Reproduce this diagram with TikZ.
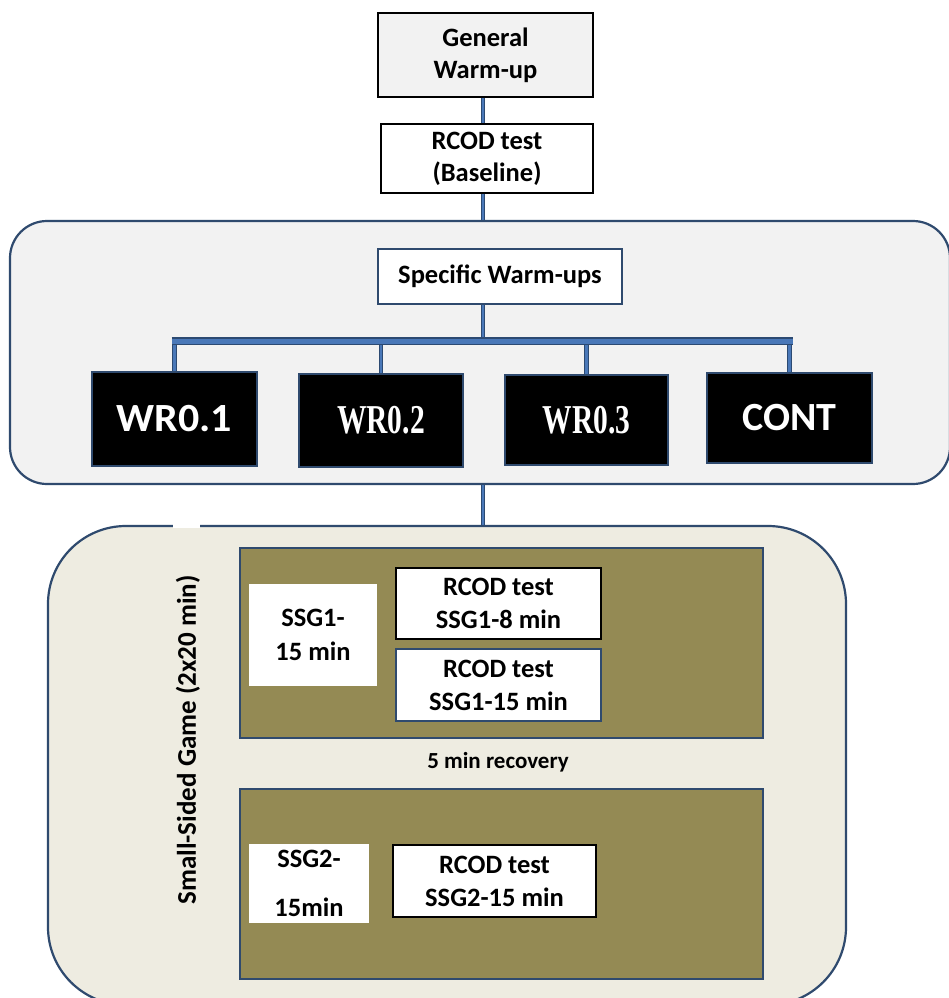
\documentclass[tikz,border=0pt]{standalone}
\usepackage{fontspec}
\setmainfont{Carlito}
\newfontfamily\timesf{Liberation Serif}
\usetikzlibrary{calc}
\definecolor{conn}{HTML}{4A78B8}
\definecolor{connedge}{HTML}{2C4A72}
\definecolor{frameblue}{HTML}{2F4A6E}
\definecolor{panelgray}{HTML}{F2F2F2}
\definecolor{beige}{HTML}{EEECE1}
\definecolor{olive}{HTML}{948A54}
\tikzset{
  wire/.style={draw=connedge, line width=1pt, double=conn, double distance=2.6pt},
  barwire/.style={draw=connedge, line width=1.3pt, double=conn, double distance=5pt},
  topbox/.style={draw=black, line width=1.8pt, align=center, inner sep=0pt,
     font=\bfseries\fontsize{26.5}{32}\selectfont},
  whitebox/.style={draw=black, line width=2.6pt, fill=white, align=center, inner sep=0pt,
     font=\bfseries\fontsize{26.5}{33}\selectfont},
  bluebox/.style={draw=frameblue, line width=2pt, fill=white, align=center, inner sep=0pt,
     font=\bfseries\fontsize{26.5}{33}\selectfont},
  plainbox/.style={fill=white, align=center, inner sep=0pt,
     font=\bfseries\fontsize{26.5}{34}\selectfont},
  wrbox/.style={draw=frameblue, line width=1.5pt, fill=black, text=white, inner sep=0pt},
  panel/.style={draw=frameblue, line width=2.2pt, inner sep=0pt},
  olivebox/.style={draw=frameblue, line width=2pt, fill=olive, inner sep=0pt}
}
\begin{document}
\begin{tikzpicture}[x=1pt,y=-1pt]
\useasboundingbox (0,0) rectangle (949,998);
\clip (0,0) rectangle (949,998);
\fill[white] (0,0) rectangle (949,998);
\coordinate (cx) at (483,0);

% panels
\node[panel, fill=panelgray, rounded corners=37pt, minimum width=940pt, minimum height=263pt]
  (panel1) at (480,352.5) {};
\node[panel, fill=beige, rounded corners=78pt, minimum width=798pt, minimum height=479pt]
  (panel2) at (447,765.5) {};
\fill[white] (173,524) rectangle (200,528);

% top boxes
\node[topbox, fill=panelgray, minimum width=215pt, minimum height=84pt] (gw) at (485.5,55)
  {General\\Warm-up};
\node[topbox, fill=white, minimum width=212pt, minimum height=69pt] (base) at (487,158.5)
  {RCOD test\\(Baseline)};
\node[bluebox, minimum width=244pt, minimum height=55pt] (spec) at (500,276.5)
  {Specific Warm-ups};

% group boxes
\node[wrbox, minimum width=165pt, minimum height=94pt] (w1) at (174.5,419)
  {\bfseries\fontsize{40}{40}\selectfont\scalebox{1.05}[1]{WR0.1}};
\node[wrbox, minimum width=164pt, minimum height=93pt] (w2) at (381,420.5)
  {\scalebox{0.72}[1]{\timesf\bfseries\fontsize{41}{41}\selectfont WR0.2}};
\node[wrbox, minimum width=163pt, minimum height=90pt] (w3) at (586.5,420)
  {\scalebox{0.72}[1]{\timesf\bfseries\fontsize{41}{41}\selectfont WR0.3}};
\node[wrbox, minimum width=165pt, minimum height=90pt] (cont) at (789.5,418)
  {\bfseries\fontsize{40}{40}\selectfont CONT};

% connectors top
\draw[wire] (gw.south -| cx) -- (base.north -| cx);
\draw[wire] (base.south -| cx) -- (panel1.north -| cx);
\coordinate (bary) at (0,341);
\draw[wire] (spec.south -| cx) -- (cx |- bary);
\draw[wire] (w1.north) -- (w1.north |- bary);
\draw[wire] (w2.north) -- (w2.north |- bary);
\draw[wire] (w3.north) -- (w3.north |- bary);
\draw[wire] (cont.north) -- (cont.north |- bary);
\draw[barwire] ($(w1.north |- bary)+(-3,0)$) -- ($(cont.north |- bary)+(3,0)$);
\draw[wire] (panel1.south -| cx) -- (panel2.north -| cx);

% SSG section
\node[olivebox, minimum width=523pt, minimum height=190pt] (ol1) at (501.5,643) {};
\node[olivebox, minimum width=523pt, minimum height=190pt] (ol2) at (501.5,884) {};

\node[plainbox, minimum width=128pt, minimum height=102pt] (s1) at (313,635)
  {SSG1-\\15 min};
\node[whitebox, minimum width=205pt, minimum height=71pt] (r8) at (498.5,603.5)
  {RCOD test\\SSG1-8 min};
\node[bluebox, minimum width=205pt, minimum height=72pt] (r15) at (498.5,685)
  {RCOD test\\SSG1-15 min};
\node[font=\bfseries\fontsize{23}{23}\selectfont, inner sep=0pt] (rec) at (498,762)
  {5 min recovery};
\node[plainbox, minimum width=120pt, minimum height=79pt,
      font=\bfseries\fontsize{26.5}{49}\selectfont] (s2) at (309,883.5)
  {SSG2-\\15min};
\node[whitebox, minimum width=203pt, minimum height=72pt] (r2) at (494.5,881)
  {RCOD test\\SSG2-15 min};

\node[rotate=90, font=\bfseries\fontsize{27}{27}\selectfont, inner sep=0pt] (side) at (188,740)
  {Small-Sided Game (2x20 min)};
\end{tikzpicture}
\end{document}
